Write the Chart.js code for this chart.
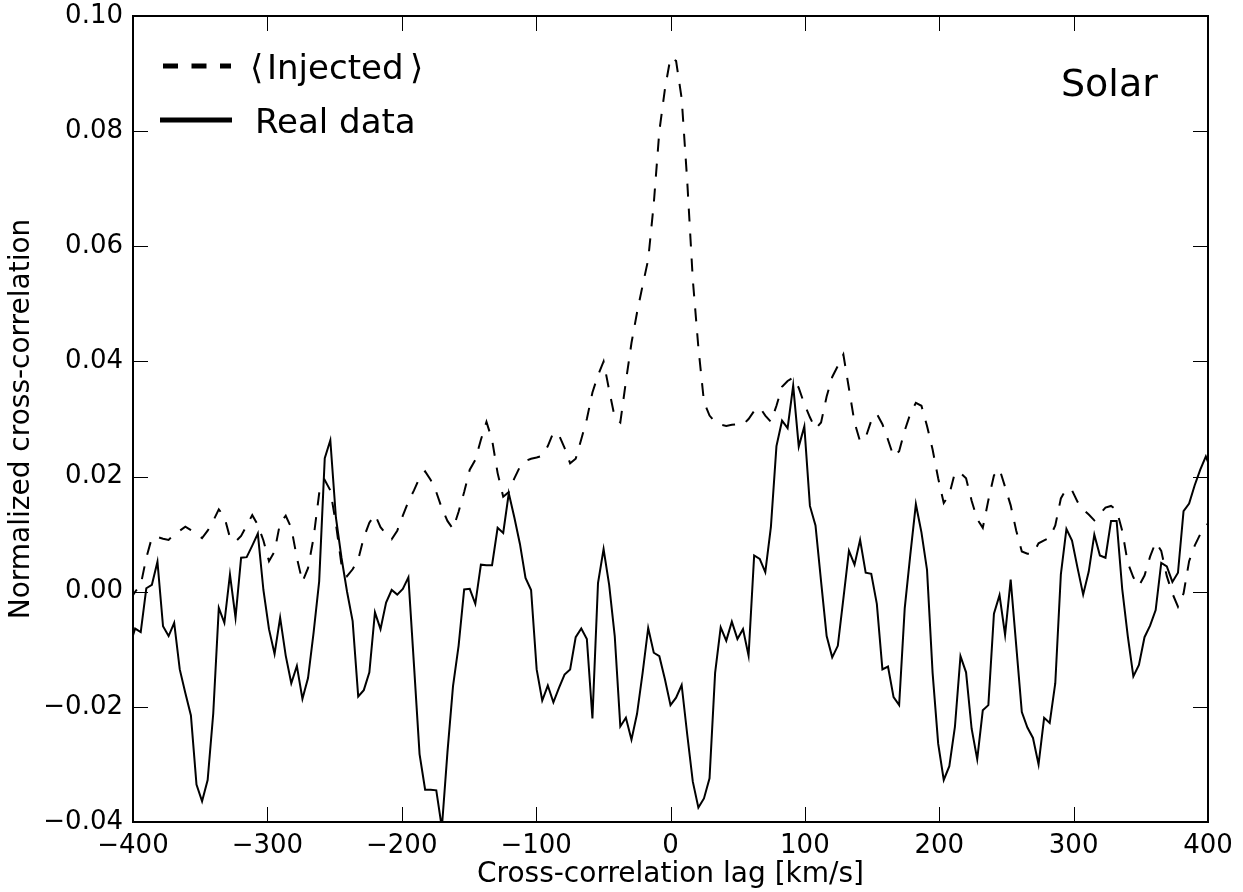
<!DOCTYPE html>
<html lang="en">
<head>
  <meta charset="UTF-8" />
  <title>Solar cross-correlation</title>
  <script src="https://cdn.jsdelivr.net/npm/chart.js"></script>
  <style>
    body { margin: 0; background: #fff; }
    canvas { display: block; }
  </style>
</head>
<body>
  <canvas id="ccf" width="1243" height="892"></canvas>

  <script>
    // lag grid: one sample every lagStep km/s, first sample at index firstLag
    const lagStep = 4.15;
    const firstLag = -97;

    // <Injected> cross-correlation (dashed)
    const injected = [
      -0.0015, 0.0000, 0.0012, 0.0059, 0.0094, 0.0095, 0.0092, 0.0090, 0.0100, 0.0106,
      0.0113, 0.0107, 0.0101, 0.0093, 0.0106, 0.0123, 0.0143, 0.0130, 0.0094, 0.0087,
      0.0097, 0.0115, 0.0133, 0.0116, 0.0089, 0.0053, 0.0070, 0.0120, 0.0132, 0.0111,
      0.0059, 0.0017, 0.0041, 0.0094, 0.0171, 0.0194, 0.0176, 0.0118, 0.0047, 0.0027,
      0.0039, 0.0056, 0.0094, 0.0120, 0.0134, 0.0112, 0.0100, 0.0091, 0.0106, 0.0132,
      0.0157, 0.0176, 0.0198, 0.0209, 0.0194, 0.0173, 0.0145, 0.0123, 0.0109, 0.0139,
      0.0173, 0.0212, 0.0229, 0.0264, 0.0295, 0.0264, 0.0206, 0.0165, 0.0173, 0.0197,
      0.0217, 0.0227, 0.0231, 0.0233, 0.0236, 0.0253, 0.0277, 0.0272, 0.0250, 0.0223,
      0.0231, 0.0265, 0.0300, 0.0346, 0.0376, 0.0400, 0.0350, 0.0303, 0.0294, 0.0365,
      0.0432, 0.0485, 0.0532, 0.0577, 0.0674, 0.0800, 0.0873, 0.0928, 0.0922, 0.0857,
      0.0713, 0.0542, 0.0424, 0.0330, 0.0306, 0.0295, 0.0290, 0.0288, 0.0290, 0.0291,
      0.0290, 0.0300, 0.0314, 0.0320, 0.0306, 0.0295, 0.0323, 0.0356, 0.0366, 0.0372,
      0.0354, 0.0326, 0.0303, 0.0283, 0.0294, 0.0339, 0.0373, 0.0392, 0.0412, 0.0353,
      0.0294, 0.0261, 0.0268, 0.0297, 0.0309, 0.0291, 0.0264, 0.0235, 0.0244, 0.0280,
      0.0309, 0.0328, 0.0323, 0.0288, 0.0247, 0.0197, 0.0154, 0.0169, 0.0207, 0.0206,
      0.0197, 0.0158, 0.0126, 0.0111, 0.0159, 0.0202, 0.0213, 0.0182, 0.0150, 0.0106,
      0.0070, 0.0066, 0.0066, 0.0084, 0.0089, 0.0094, 0.0115, 0.0162, 0.0179, 0.0176,
      0.0156, 0.0143, 0.0134, 0.0124, 0.0135, 0.0146, 0.0149, 0.0142, 0.0106, 0.0050,
      0.0025, 0.0010, 0.0028, 0.0061, 0.0086, 0.0071, 0.0027, -0.0003, -0.0026, -0.0003,
      0.0053, 0.0080, 0.0100, 0.0113, 0.0128
    ];

    // real data cross-correlation (solid)
    const realData = [
      -0.0095, -0.0064, -0.0070, 0.0006, 0.0012, 0.0052, -0.0060, -0.0077, -0.0054, -0.0135,
      -0.0176, -0.0215, -0.0335, -0.0364, -0.0327, -0.0212, -0.0028, -0.0054, 0.0030, -0.0045,
      0.0059, 0.0060, 0.0080, 0.0101, 0.0003, -0.0065, -0.0108, -0.0045, -0.0111, -0.0159,
      -0.0129, -0.0186, -0.0150, -0.0071, 0.0018, 0.0232, 0.0263, 0.0129, 0.0059, 0.0000,
      -0.0051, -0.0182, -0.0171, -0.0140, -0.0036, -0.0065, -0.0019, 0.0003, -0.0005, 0.0005,
      0.0025, -0.0127, -0.0282, -0.0344, -0.0344, -0.0345, -0.0410, -0.0279, -0.0164, -0.0094,
      0.0004, 0.0005, -0.0021, 0.0047, 0.0046, 0.0046, 0.0111, 0.0102, 0.0171, 0.0129,
      0.0083, 0.0024, 0.0003, -0.0135, -0.0189, -0.0163, -0.0192, -0.0167, -0.0144, -0.0135,
      -0.0079, -0.0064, -0.0082, -0.0220, 0.0015, 0.0074, 0.0012, -0.0077, -0.0234, -0.0219,
      -0.0257, -0.0212, -0.0141, -0.0063, -0.0106, -0.0112, -0.0152, -0.0197, -0.0184, -0.0162,
      -0.0248, -0.0330, -0.0375, -0.0359, -0.0324, -0.0141, -0.0062, -0.0085, -0.0052, -0.0082,
      -0.0065, -0.0111, 0.0063, 0.0057, 0.0034, 0.0112, 0.0253, 0.0297, 0.0284, 0.0358,
      0.0252, 0.0287, 0.0149, 0.0115, 0.0018, -0.0077, -0.0114, -0.0094, -0.0012, 0.0071,
      0.0047, 0.0090, 0.0033, 0.0031, -0.0021, -0.0135, -0.0130, -0.0183, -0.0197, -0.0029,
      0.0064, 0.0152, 0.0103, 0.0038, -0.0141, -0.0264, -0.0327, -0.0303, -0.0235, -0.0112,
      -0.0140, -0.0238, -0.0291, -0.0206, -0.0197, -0.0038, -0.0006, -0.0075, 0.0021, -0.0094,
      -0.0209, -0.0236, -0.0254, -0.0300, -0.0219, -0.0228, -0.0159, 0.0030, 0.0109, 0.0089,
      0.0041, -0.0005, 0.0035, 0.0099, 0.0063, 0.0059, 0.0123, 0.0123, 0.0005, -0.0077,
      -0.0147, -0.0127, -0.0079, -0.0059, -0.0032, 0.0050, 0.0044, 0.0017, 0.0033, 0.0140,
      0.0153, 0.0185, 0.0212, 0.0235, 0.0210
    ];

    const xTicks = [-400, -300, -200, -100, 0, 100, 200, 300, 400];
    const yTicks = [-0.04, -0.02, 0.00, 0.02, 0.04, 0.06, 0.08, 0.10];

    const lags = injected.map((_, i) => (firstLag + i) * lagStep);
    const points = vals => lags.map((lag, i) => ({ x: lag, y: vals[i] }));

    // matplotlib style minus sign
    const minus = s => s.replace('-', '\u2212');

    Chart.defaults.font.family = "'DejaVu Sans', sans-serif";
    Chart.defaults.color = '#000';

    // box, inward ticks on all four sides, legend and the "Solar" tag
    const frame = {
      id: 'frame',
      afterDraw(chart) {
        const { ctx, chartArea: a, scales } = chart;
        const tick = 15;
        ctx.save();
        ctx.strokeStyle = '#000';
        ctx.lineWidth = 1;
        ctx.beginPath();
        xTicks.forEach(v => {
          const px = Math.round(scales.x.getPixelForValue(v)) + 0.5;
          ctx.moveTo(px, a.bottom); ctx.lineTo(px, a.bottom - tick);
          ctx.moveTo(px, a.top); ctx.lineTo(px, a.top + tick);
        });
        yTicks.forEach(v => {
          const py = Math.round(scales.y.getPixelForValue(v)) + 0.5;
          ctx.moveTo(a.left, py); ctx.lineTo(a.left + tick, py);
          ctx.moveTo(a.right, py); ctx.lineTo(a.right - tick, py);
        });
        ctx.stroke();
        ctx.lineWidth = 2;
        ctx.strokeRect(a.left, a.top, a.right - a.left, a.bottom - a.top);

        // legend
        ctx.lineWidth = 5;
        ctx.setLineDash([15, 13.5]);
        ctx.beginPath(); ctx.moveTo(163, 66); ctx.lineTo(231, 66); ctx.stroke();
        ctx.setLineDash([]);
        ctx.beginPath(); ctx.moveTo(160, 120); ctx.lineTo(232, 120); ctx.stroke();
        ctx.fillStyle = '#000';
        ctx.textBaseline = 'alphabetic';
        ctx.font = "34px 'DejaVu Sans'";
        ctx.fillText('\u27E8', 250, 79);
        ctx.fillText('Injected', 267, 79);
        ctx.fillText('\u27E9', 410, 79);
        ctx.fillText('Real data', 255, 133);
        ctx.font = "38px 'DejaVu Sans'";
        ctx.fillText('Solar', 1061, 96);
        ctx.restore();
      }
    };

    new Chart(document.getElementById('ccf'), {
      type: 'line',
      data: {
        datasets: [
          {
            label: '\u27E8Injected\u27E9',
            data: points(injected),
            borderColor: '#000',
            borderWidth: 2,
            borderDash: [13, 12],
            pointRadius: 0,
            tension: 0
          },
          {
            label: 'Real data',
            data: points(realData),
            borderColor: '#000',
            borderWidth: 2,
            pointRadius: 0,
            tension: 0
          }
        ]
      },
      options: {
        responsive: false,
        animation: false,
        devicePixelRatio: 1,
        events: [],
        layout: { padding: { left: 0, right: 35, top: 16, bottom: 0 } },
        plugins: { legend: { display: false }, tooltip: { enabled: false } },
        scales: {
          x: {
            type: 'linear',
            min: -400,
            max: 400,
            afterBuildTicks: s => { s.ticks = xTicks.map(v => ({ value: v })); },
            afterFit: s => { s.height = 70; s.paddingLeft = 0; s.paddingRight = 0; },
            grid: { display: false, drawTicks: false },
            border: { display: false },
            ticks: {
              font: { size: 26 },
              padding: 9,
              maxRotation: 0,
              autoSkip: false,
              callback: v => minus(String(v))
            },
            title: {
              display: true,
              text: 'Cross-correlation lag [km/s]',
              font: { size: 28 },
              padding: { top: 0, bottom: 0 }
            }
          },
          y: {
            type: 'linear',
            min: -0.04,
            max: 0.10,
            afterBuildTicks: s => { s.ticks = yTicks.map(v => ({ value: v })); },
            afterFit: s => { s.width = 133; s.paddingTop = 0; s.paddingBottom = 0; },
            grid: { display: false, drawTicks: false },
            border: { display: false },
            ticks: {
              font: { size: 26 },
              padding: 10,
              callback: v => minus(Math.abs(v) < 1e-9 ? '0.00' : v.toFixed(2))
            },
            title: {
              display: true,
              text: 'Normalized cross-correlation',
              font: { size: 28 },
              padding: { top: 5, bottom: 0 }
            }
          }
        }
      },
      plugins: [frame]
    });
  </script>
</body>
</html>
